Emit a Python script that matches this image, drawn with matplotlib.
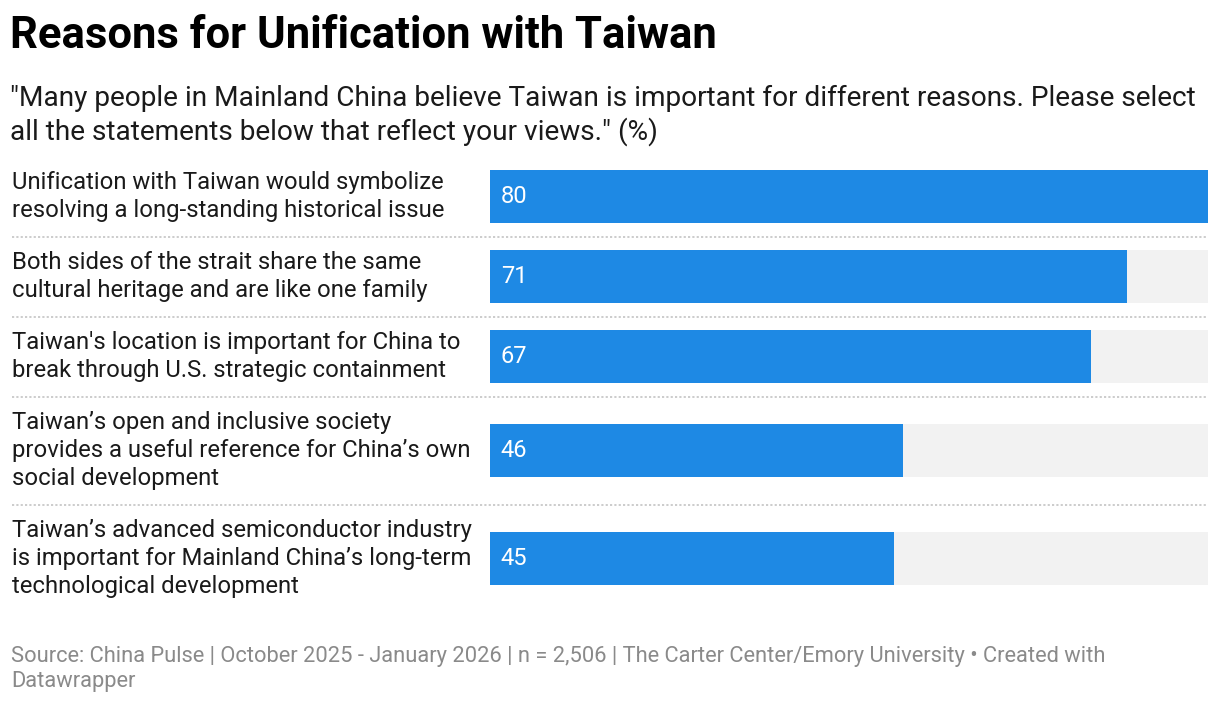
import matplotlib.pyplot as plt
from matplotlib.lines import Line2D

plt.rcParams['font.family'] = ['Roboto', 'DejaVu Sans']

# данные
labels = [
    "Unification with Taiwan would symbolize\nresolving a long-standing historical issue",
    "Both sides of the strait share the same\ncultural heritage and are like one family",
    "Taiwan's location is important for China to\nbreak through U.S. strategic containment",
    "Taiwan\u2019s open and inclusive society\nprovides a useful reference for China\u2019s own\nsocial development",
    "Taiwan\u2019s advanced semiconductor industry\nis important for Mainland China\u2019s long-term\ntechnological development",
]
values = [80, 71, 67, 46, 45]
max_value = 80

title = "Reasons for Unification with Taiwan"
subtitle = ('"Many people in Mainland China believe Taiwan is important for different reasons. Please select\n'
            'all the statements below that reflect your views." (%)')
footer = ("Source: China Pulse | October 2025 - January 2026 | n = 2,506 | The Carter Center/Emory University \u2022 Created with\n"
          "Datawrapper")

W, H = 1220, 704
BLUE = '#1e89e4'
GREY = '#f2f2f2'

# раскладка строк (в пикселях)
row_top = 156.5
row_h = {2: 80, 3: 108}
centers, seps = [], []
y = row_top
for lab in labels:
    h = row_h[lab.count('\n') + 1]
    centers.append(y + h / 2)
    y += h
    seps.append(y)
seps = seps[:-1]

fig = plt.figure(figsize=(W / 100, H / 100), dpi=100)

# фоновые оси на всю фигуру для текста
bg = fig.add_axes([0, 0, 1, 1])
bg.set_xlim(0, W)
bg.set_ylim(H, 0)
bg.axis('off')

bg.text(10, 36, title, fontsize=31.4, fontweight='bold', va='center', ha='left', color='#000000')
bg.text(10, 115.5, subtitle, fontsize=20.2, va='center', ha='left', color='#1a1a1a', linespacing=1.24)
bg.text(11, 669, footer, fontsize=15.75, va='center', ha='left', color='#8a8a8a', linespacing=1.3)

for c, lab in zip(centers, labels):
    bg.text(12, c, lab, fontsize=17.2, va='center', ha='left', color='#1a1a1a', linespacing=1.3)

for s in seps:
    bg.add_line(Line2D([12, 1208], [s, s], color='#c8c8c8', linewidth=1.3,
                       linestyle=(0, (1.2, 1.2))))

# оси для полос
x0, x1 = 490, 1208
ax = fig.add_axes([x0 / W, 0, (x1 - x0) / W, 1])
ax.set_xlim(0, max_value)
ax.set_ylim(H, 0)
ax.axis('off')

ax.barh(centers, [max_value] * len(values), height=53, color=GREY, linewidth=0)
ax.barh(centers, values, height=53, color=BLUE, linewidth=0)
for c, v in zip(centers, values):
    ax.text(1.2, c, str(v), fontsize=17.1, color='white', va='center', ha='left')

fig.savefig('out.png', dpi=100)
plt.close()
